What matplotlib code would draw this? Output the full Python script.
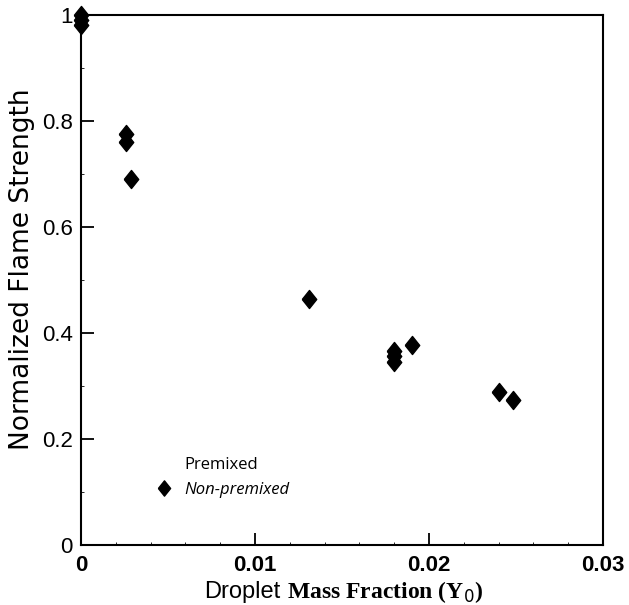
import matplotlib
matplotlib.use("Agg")
import matplotlib.pyplot as plt
from matplotlib.lines import Line2D
from matplotlib.ticker import MultipleLocator

# droplet mass fraction vs normalized flame strength (non-premixed)
y0_nonpremixed = [0.0, 0.0, 0.0, 0.0026, 0.0026, 0.0029, 0.0131,
                  0.0180, 0.0180, 0.0180, 0.0190, 0.0240, 0.0248]
strength_nonpremixed = [1.0, 0.99, 0.982, 0.775, 0.76, 0.69, 0.465,
                        0.366, 0.356, 0.346, 0.377, 0.289, 0.273]

x_ticks = [0, 0.01, 0.02, 0.03]
x_ticklabels = ["0", "0.01", "0.02", "0.03"]
y_ticks = [0, 0.2, 0.4, 0.6, 0.8, 1.0]
y_ticklabels = ["0", "0.2", "0.4", "0.6", "0.8", "1"]
legend_labels = ["Premixed", "Non-premixed"]

diamond = [(-0.8, 0), (0, 1), (0.8, 0), (0, -1), (-0.8, 0)]

fig = plt.figure(figsize=(6.29, 6.05), dpi=100)
ax = fig.add_axes([0.1288, 0.0992, 0.830, 0.876])

ax.plot(y0_nonpremixed, strength_nonpremixed, linestyle="none",
        marker=diamond, markersize=13, color="black", clip_on=False, zorder=3)

ax.set_xlim(0, 0.03)
ax.set_ylim(0, 1.0)
ax.set_xticks(x_ticks)
ax.set_xticklabels(x_ticklabels, family="Liberation Sans", fontweight="bold", fontsize=16)
ax.set_yticks(y_ticks)
ax.set_yticklabels(y_ticklabels, family="Liberation Sans", fontsize=16)
ax.xaxis.set_minor_locator(MultipleLocator(0.002))
ax.yaxis.set_minor_locator(MultipleLocator(0.1))
ax.tick_params(which="major", direction="in", length=9, width=1.3, top=False, right=False)
ax.tick_params(which="minor", direction="in", length=2.5, width=0.6, top=False, right=False)
ax.tick_params(axis="x", which="major", pad=7)
ax.tick_params(axis="y", which="major", pad=6)
for s in ax.spines.values():
    s.set_linewidth(1.5)

# axis titles (the x title mixes a sans word with a bold serif part)
fig.text(22 / 629, 0.555, "Normalized Flame Strength", rotation=90,
         ha="center", va="center", family="DejaVu Sans", fontsize=19)
fig.text(280 / 629, 0.012, "Droplet", ha="right", va="baseline",
         family="Liberation Sans", fontsize=17)
fig.text(287 / 629, 0.012, r"Mass Fraction (Y$_0$)", ha="left", va="baseline",
         family="Liberation Serif", fontweight="bold", fontsize=17)

handles = [Line2D([], [], linestyle="none", marker="none"),
           Line2D([], [], linestyle="none", marker=diamond, markersize=11, color="black")]
leg = ax.legend(handles, legend_labels, loc="upper left", bbox_to_anchor=(0.115, 0.195),
                frameon=False, handlelength=1.0, handletextpad=0.7,
                labelspacing=0.55, prop={"family": "Open Sans", "size": 12})
leg.get_texts()[1].set_fontstyle("italic")

fig.savefig("out.png", dpi=100)
